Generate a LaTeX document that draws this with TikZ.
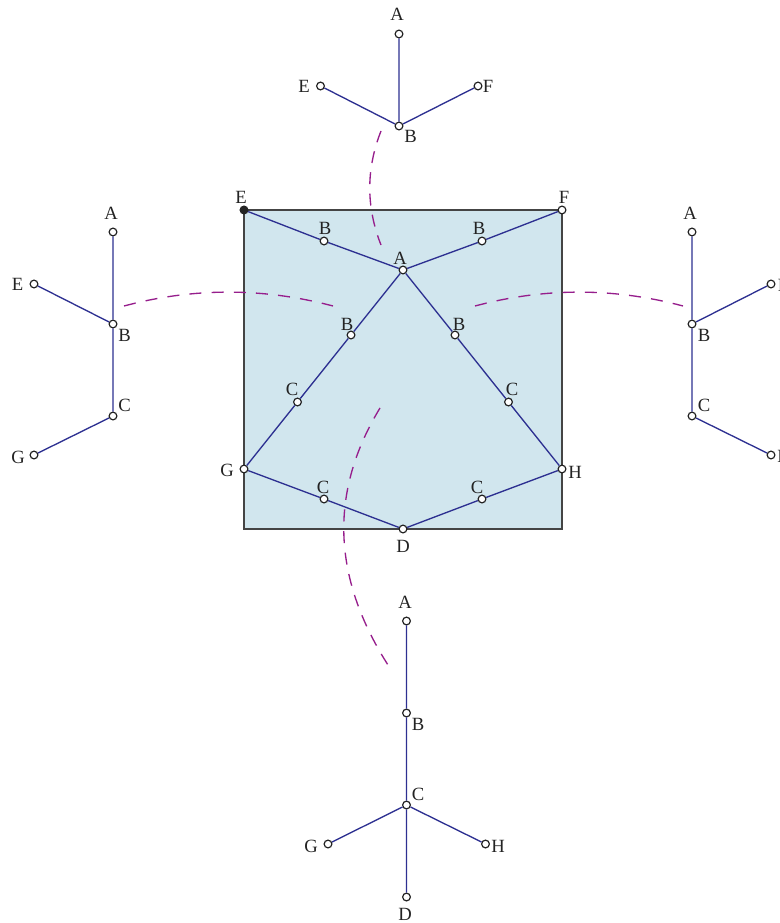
\documentclass[tikz,border=0pt]{standalone}
\usepackage{fontspec}
\setmainfont{Liberation Serif}
\definecolor{fillb}{RGB}{209,230,238}
\definecolor{lineb}{RGB}{45,48,145}
\definecolor{arcp}{RGB}{150,30,140}
\definecolor{ink}{RGB}{35,35,35}
\tikzset{
  pt/.style={circle,draw=ink,fill=white,line width=0.9pt,inner sep=0pt,minimum size=5.8pt},
  ptb/.style={circle,draw=ink,fill=ink,line width=0.9pt,inner sep=0pt,minimum size=5.8pt},
  lab/.style={text=ink,font=\fontsize{14pt}{16pt}\selectfont,inner sep=0pt},
  edge/.style={draw=lineb,line width=1pt},
  arcd/.style={draw=arcp,line width=1pt},
}
\begin{document}
\begin{tikzpicture}[x=0.75pt,y=-0.75pt]
\useasboundingbox (0,0) rectangle (780,923);
\clip (0,0) rectangle (780,923);
% square
\path[fill=fillb] (244,210) rectangle (562,529);
\draw[ink!85,line width=0.95pt] (244,210) rectangle (562,529);
% central nodes
\node[ptb] (cE) at (244,210) {};
\node[pt] (cF) at (562,210) {};
\node[pt] (cA) at (403,270) {};
\node[pt] (cB1) at (324,241) {};
\node[pt] (cB2) at (482,241) {};
\node[pt] (cB3) at (351,335) {};
\node[pt] (cB4) at (455,335) {};
\node[pt] (cC1) at (297.5,402) {};
\node[pt] (cC2) at (508.5,402) {};
\node[pt] (cG) at (244,469) {};
\node[pt] (cH) at (562,469) {};
\node[pt] (cC3) at (324,499) {};
\node[pt] (cC4) at (482,499) {};
\node[pt] (cD) at (403,529) {};
% top tree
\node[pt] (tA) at (399,34) {};
\node[pt] (tB) at (399,126) {};
\node[pt] (tE) at (320.5,86) {};
\node[pt] (tF) at (478,86) {};
% left tree
\node[pt] (lA) at (113,232) {};
\node[pt] (lB) at (113,324) {};
\node[pt] (lC) at (113,416) {};
\node[pt] (lE) at (34,284) {};
\node[pt] (lG) at (34,455) {};
% right tree
\node[pt] (rA) at (692,232) {};
\node[pt] (rB) at (692,324) {};
\node[pt] (rC) at (692,416) {};
\node[pt] (rF) at (771,284) {};
\node[pt] (rH) at (771,455) {};
% bottom tree
\node[pt] (bA) at (406.5,621) {};
\node[pt] (bB) at (406.5,713) {};
\node[pt] (bC) at (406.5,805) {};
\node[pt] (bD) at (406.5,897) {};
\node[pt] (bG) at (328,844) {};
\node[pt] (bH) at (485.5,844) {};
% arc anchors
\coordinate (a1s) at (381,131);
\coordinate (a1e) at (381,245);
\coordinate (a2s) at (124,306);
\coordinate (a2e) at (333,306);
\coordinate (a3s) at (475,306);
\coordinate (a3e) at (683,306);
\coordinate (a4s) at (380,408);
\coordinate (a4e) at (388,665);
% edges
\path[edge] (cE)--(cB1) (cB1)--(cA) (cA)--(cB2) (cB2)--(cF)
  (cA)--(cB3) (cB3)--(cC1) (cC1)--(cG) (cA)--(cB4) (cB4)--(cC2) (cC2)--(cH)
  (cG)--(cC3) (cC3)--(cD) (cD)--(cC4) (cC4)--(cH);
\path[edge] (tA)--(tB) (tE)--(tB) (tF)--(tB);
\path[edge] (lA)--(lB) (lB)--(lC) (lE)--(lB) (lG)--(lC);
\path[edge] (rA)--(rB) (rB)--(rC) (rF)--(rB) (rH)--(rC);
\path[edge] (bA)--(bB) (bB)--(bC) (bC)--(bD) (bG)--(bC) (bH)--(bC);
% arcs
\path[arcd,dash pattern=on 9pt off 7pt] (a1s) .. controls (366,169) and (366,207) .. (a1e);
\path[arcd,dash pattern=on 9pt off 7.65pt] (a2s) .. controls (193,287.5) and (263,287.5) .. (a2e);
\path[arcd,dash pattern=on 9pt off 7.65pt] (a3s) .. controls (544,287.5) and (614,287.5) .. (a3e);
\path[arcd,dash pattern=on 9pt off 7.25pt] (a4s) .. controls (329,492) and (332,577) .. (a4e);
% labels
\node[lab] (ltA) at (397,14.5) {A};
\node[lab] (ltE) at (304,86.5) {E};
\node[lab] (ltF) at (488,86.5) {F};
\node[lab] (ltB) at (410.5,136.5) {B};
\node[lab] (llA) at (111,213.5) {A};
\node[lab] (llE) at (17.5,284.5) {E};
\node[lab] (llB) at (124.5,335.5) {B};
\node[lab] (llC) at (124.5,405.5) {C};
\node[lab] (llG) at (18,457.5) {G};
\node[lab] (lrA) at (690,213.5) {A};
\node[lab] (lrF) at (783,285) {F};
\node[lab] (lrB) at (704,335.5) {B};
\node[lab] (lrC) at (704,405.5) {C};
\node[lab] (lrH) at (784,456) {H};
\node[lab] (lcE) at (241,197.5) {E};
\node[lab] (lcF) at (564,197.5) {F};
\node[lab] (lcB1) at (325,228.5) {B};
\node[lab] (lcB2) at (479,228.5) {B};
\node[lab] (lcA) at (400,258.5) {A};
\node[lab] (lcB3) at (347,324.5) {B};
\node[lab] (lcB4) at (459,324.5) {B};
\node[lab] (lcC1) at (292,389.5) {C};
\node[lab] (lcC2) at (512,389.5) {C};
\node[lab] (lcG) at (227,470.5) {G};
\node[lab] (lcH) at (575,472.5) {H};
\node[lab] (lcC3) at (323,487.5) {C};
\node[lab] (lcC4) at (477,487.5) {C};
\node[lab] (lcD) at (403,546.5) {D};
\node[lab] (lbA) at (405,602.5) {A};
\node[lab] (lbB) at (418,724.5) {B};
\node[lab] (lbC) at (418,794.5) {C};
\node[lab] (lbG) at (311,846.5) {G};
\node[lab] (lbH) at (498,846.5) {H};
\node[lab] (lbD) at (405,914.5) {D};
\end{tikzpicture}
\end{document}
